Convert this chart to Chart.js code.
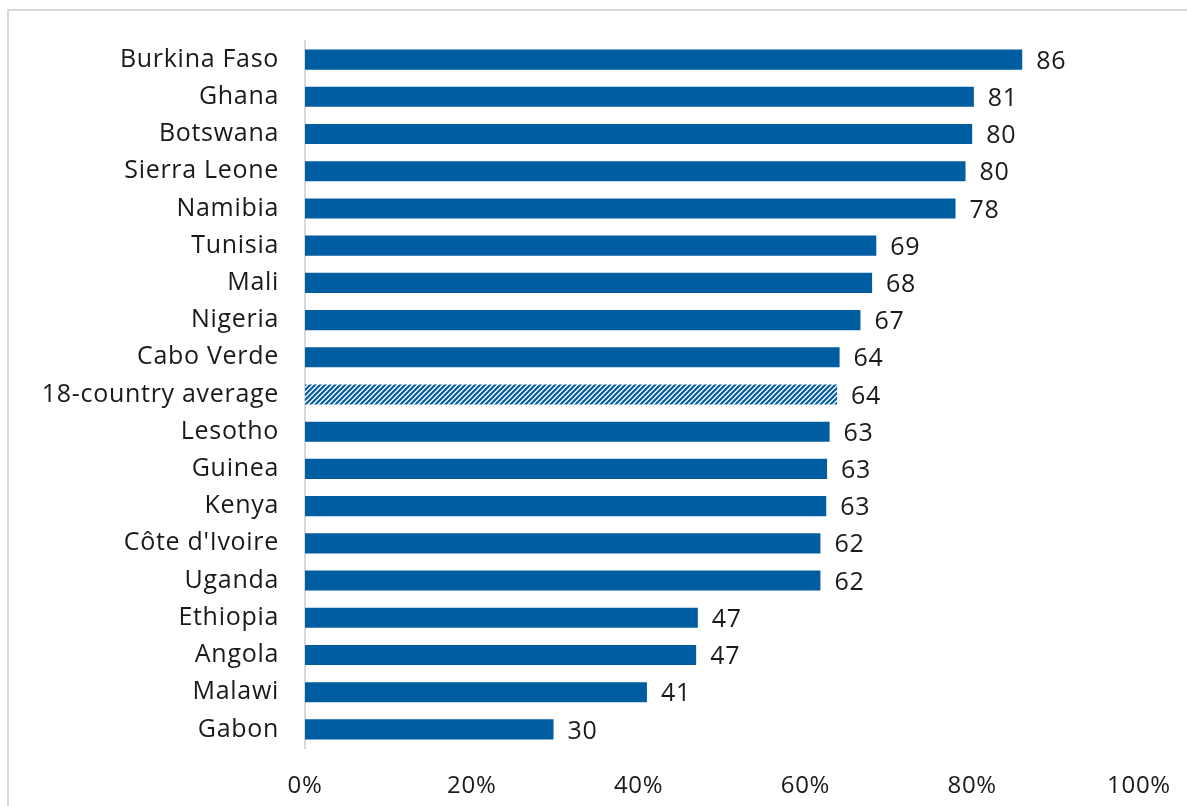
<!DOCTYPE html>
<html>
<head>
<meta charset="utf-8">
<script src="https://cdn.jsdelivr.net/npm/chart.js@4"></script>
<style>
  html, body { margin: 0; padding: 0; background: #fff; }
  #wrap { position: relative; width: 1187px; height: 806px; overflow: hidden; }
  #frame { position: absolute; left: 7px; top: 9px; width: 1200px; height: 820px; border: 2px solid #d9d9d9; box-sizing: border-box; }
  canvas { position: absolute; left: 0; top: 0; }
</style>
</head>
<body>
<div id="wrap">
  <div id="frame"></div>
  <canvas id="myChart" width="1187" height="806"></canvas>
</div>
<script>
let countries = ['Burkina Faso', 'Ghana', 'Botswana', 'Sierra Leone', 'Namibia', 'Tunisia', 'Mali',
  'Nigeria', 'Cabo Verde', '18-country average', 'Lesotho', 'Guinea', 'Kenya', "Côte d'Ivoire",
  'Uganda', 'Ethiopia', 'Angola', 'Malawi', 'Gabon']
let shares = [86, 80.2, 80, 79.2, 78, 68.5, 68, 66.6, 64.1, 63.8, 62.9, 62.6, 62.5, 61.8, 61.8, 47.1, 46.9, 41, 29.8]
let valueLabels = ['86', '81', '80', '80', '78', '69', '68', '67', '64', '64', '63', '63', '63', '62', '62', '47', '47', '41', '30']
let xTicks = ['0%', '20%', '40%', '60%', '80%', '100%']

let blue = '#005DA2'
let fontName = "'Open Sans', sans-serif"

// hatched fill for the average bar
function hatch() {
  let c = document.createElement('canvas')
  c.width = 5
  c.height = 5
  let p = c.getContext('2d')
  p.fillStyle = '#fff'
  p.fillRect(0, 0, 5, 5)
  p.strokeStyle = blue
  p.lineWidth = 2.2
  p.beginPath()
  p.moveTo(-1, 6); p.lineTo(6, -1)
  p.moveTo(-1, 1); p.lineTo(1, -1)
  p.moveTo(4, 6); p.lineTo(6, 4)
  p.stroke()
  return p.createPattern(c, 'repeat')
}

let ctx = document.getElementById('myChart').getContext('2d')
let pattern = hatch()
let colors = countries.map(c => c == '18-country average' ? pattern : blue)

let spacing = {
  id: 'spacing',
  beforeDraw(chart) { chart.ctx.letterSpacing = '0.7px' }
}

let barLabels = {
  id: 'barLabels',
  afterDatasetsDraw(chart) {
    let c = chart.ctx
    c.save()
    c.font = '25px ' + fontName
    c.fillStyle = '#1a1a1a'
    c.textAlign = 'left'
    c.textBaseline = 'middle'
    chart.getDatasetMeta(0).data.forEach((bar, i) => {
      c.fillText(valueLabels[i], bar.x + 14, bar.y + 2)
    })
    c.restore()
  }
}

let myChart = new Chart(ctx, {
  type: 'bar',
  data: {
    labels: countries,
    datasets: [{
      data: shares,
      backgroundColor: colors,
      borderWidth: 0,
      barPercentage: 0.54,
      categoryPercentage: 1
    }]
  },
  options: {
    indexAxis: 'y',
    responsive: false,
    animation: false,
    layout: { padding: { left: 0, right: 48, top: 37, bottom: 0 } },
    plugins: { legend: { display: false }, tooltip: { enabled: false } },
    scales: {
      x: {
        min: 0,
        max: 100,
        grid: { display: false },
        border: { display: false },
        afterFit: s => { s.height = 58 },
        afterBuildTicks: s => { s.ticks = xTicks.map((t, i) => ({ value: i * 20 })) },
        ticks: {
          padding: 16,
          color: '#1a1a1a',
          font: { family: fontName, size: 24 },
          maxRotation: 0,
          callback: (v, i) => xTicks[i]
        }
      },
      y: {
        grid: { display: false, drawTicks: false },
        border: { display: true, color: '#d9d9d9', width: 2 },
        afterFit: s => { s.width = 305 },
        ticks: {
          padding: 26,
          color: '#1a1a1a',
          font: { family: fontName, size: 25 }
        }
      }
    }
  },
  plugins: [spacing, barLabels]
})
</script>
</body>
</html>
